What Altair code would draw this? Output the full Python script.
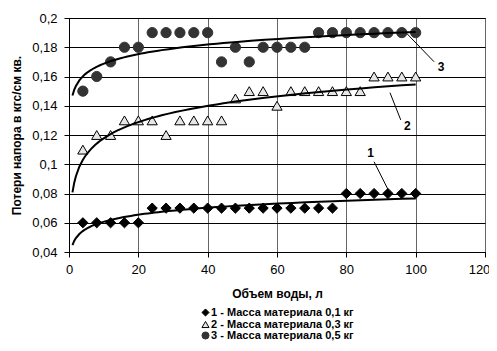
import altair as alt
import pandas as pd

# ---- data ----
volume = [4, 8, 12, 16, 20, 24, 28, 32, 36, 40, 44, 48, 52, 56, 60, 64, 68, 72, 76, 80, 84, 88, 92, 96, 100]
loss_1 = [0.06, 0.06, 0.06, 0.06, 0.06, 0.07, 0.07, 0.07, 0.07, 0.07, 0.07, 0.07, 0.07, 0.07, 0.07,
          0.07, 0.07, 0.07, 0.07, 0.08, 0.08, 0.08, 0.08, 0.08, 0.08]
loss_2 = [0.11, 0.12, 0.12, 0.13, 0.13, 0.13, 0.12, 0.13, 0.13, 0.13, 0.13, 0.145, 0.15, 0.15, 0.14,
          0.15, 0.15, 0.15, 0.15, 0.15, 0.15, 0.16, 0.16, 0.16, 0.16]
loss_3 = [0.15, 0.16, 0.17, 0.18, 0.18, 0.19, 0.19, 0.19, 0.19, 0.19, 0.17, 0.18, 0.17, 0.18, 0.18,
          0.18, 0.18, 0.19, 0.19, 0.19, 0.19, 0.19, 0.19, 0.19, 0.19]
series_names = ["1 - Масса материала 0,1 кг", "2 - Масса материала 0,3 кг", "3 - Масса материала 0,5 кг"]
series_shapes = ["diamond", "triangle-up", "circle"]
series_fills = ["#000000", "#e6e6e6", "#333333"]
series_strokes = ["#000000", "#000000", "#333333"]

trend_extent = [1, 100]
x_ticks = [0, 20, 40, 60, 80, 100, 120]
y_ticks = [0.04, 0.06, 0.08, 0.1, 0.12, 0.14, 0.16, 0.18, 0.2]

callout_text = ["1", "2", "3"]
callout_x = [87.0, 97.6, 107.3]
callout_y = [0.1075, 0.1262, 0.1667]
leader_x1 = [88.0, 92.6, 97.4]
leader_y1 = [0.1017, 0.1489, 0.1895]
leader_x2 = [92.1, 95.7, 105.3]
leader_y2 = [0.0824, 0.1303, 0.1701]

rows = []
for name, vals in zip(series_names, [loss_1, loss_2, loss_3]):
    for v, l in zip(volume, vals):
        rows.append({"volume": v, "loss": l, "series": name})
df = pd.DataFrame(rows)

ann = pd.DataFrame({
    "text": callout_text, "tx": callout_x, "ty": callout_y,
    "x1": leader_x1, "y1": leader_y1, "x2": leader_x2, "y2": leader_y2,
})

FONT = "Liberation Sans"

x_scale = alt.Scale(domain=[0, 120], nice=False, zero=False)
y_scale = alt.Scale(domain=[0.04, 0.2], nice=False, zero=False)

x_enc = alt.X("volume:Q", scale=x_scale,
              axis=alt.Axis(values=x_ticks, tickCount=10, title="Объем воды, л", grid=True,
                            gridColor="#666666", gridOpacity=1, domainColor="#000000",
                            tickColor="#000000", tickSize=5, labelPadding=6,
                            labelFlush=False, labelOverlap=False,
                            labelOffset={"condition": {"test": "datum.value == 120", "value": -6}, "value": 0},
                            labelFontSize=13, titleFontSize=12, titleFontWeight="bold",
                            titlePadding=12, labelFont=FONT, titleFont=FONT,
                            labelColor="#000000", titleColor="#000000"))
y_enc = alt.Y("loss:Q", scale=y_scale,
              axis=alt.Axis(values=y_ticks, tickCount=12, title="Потери напора в кгс/см кв.", grid=True,
                            gridColor="#000000", gridOpacity=1, domainColor="#000000",
                            tickColor="#000000", tickSize=5, labelPadding=7,
                            labelFlush=False, labelOverlap=False,
                            labelExpr="replace(toString(round(datum.value*100)/100), '.', ',')",
                            labelFontSize=13, titleFontSize=12, titleFontWeight="bold",
                            titlePadding=8, labelFont=FONT, titleFont=FONT,
                            labelColor="#000000", titleColor="#000000"))

points = alt.Chart(df).mark_point(filled=True, size=105, strokeWidth=1, opacity=1).encode(
    x=x_enc,
    y=y_enc,
    shape=alt.Shape("series:N", scale=alt.Scale(domain=series_names, range=series_shapes),
                    legend=alt.Legend(title=None, orient="none", legendX=131, legendY=289,
                                      labelFont=FONT, labelFontSize=11, labelFontWeight="bold",
                                      labelColor="#000000", symbolSize=50, rowPadding=-1,
                                      labelOffset=0, symbolStrokeWidth=1)),
    fill=alt.Fill("series:N", scale=alt.Scale(domain=series_names, range=series_fills)),
    stroke=alt.Stroke("series:N", scale=alt.Scale(domain=series_names, range=series_strokes)),
)

trend = alt.Chart(df).transform_regression(
    "volume", "loss", method="log", groupby=["series"], extent=trend_extent
).mark_line(color="#000000", strokeWidth=2).encode(
    x="volume:Q", y="loss:Q", detail="series:N"
)

leaders = alt.Chart(ann).mark_rule(color="#000000", strokeWidth=1).encode(
    x="x1:Q", y="y1:Q", x2="x2:Q", y2="y2:Q"
)

labels = alt.Chart(ann).mark_text(font=FONT, fontSize=12, fontWeight="bold", color="#000000").encode(
    x="tx:Q", y="ty:Q", text="text:N"
)

chart = alt.layer(points, trend, leaders, labels).properties(
    width=416, height=234,
    autosize=alt.AutoSizeParams(type="none"),
    padding={"left": 61, "top": 10, "right": 4, "bottom": 91},
    background="#ffffff",
).configure_view(stroke="#000000", strokeWidth=1)

chart.save("out.html", embed_options={"renderer": "svg", "actions": False})
